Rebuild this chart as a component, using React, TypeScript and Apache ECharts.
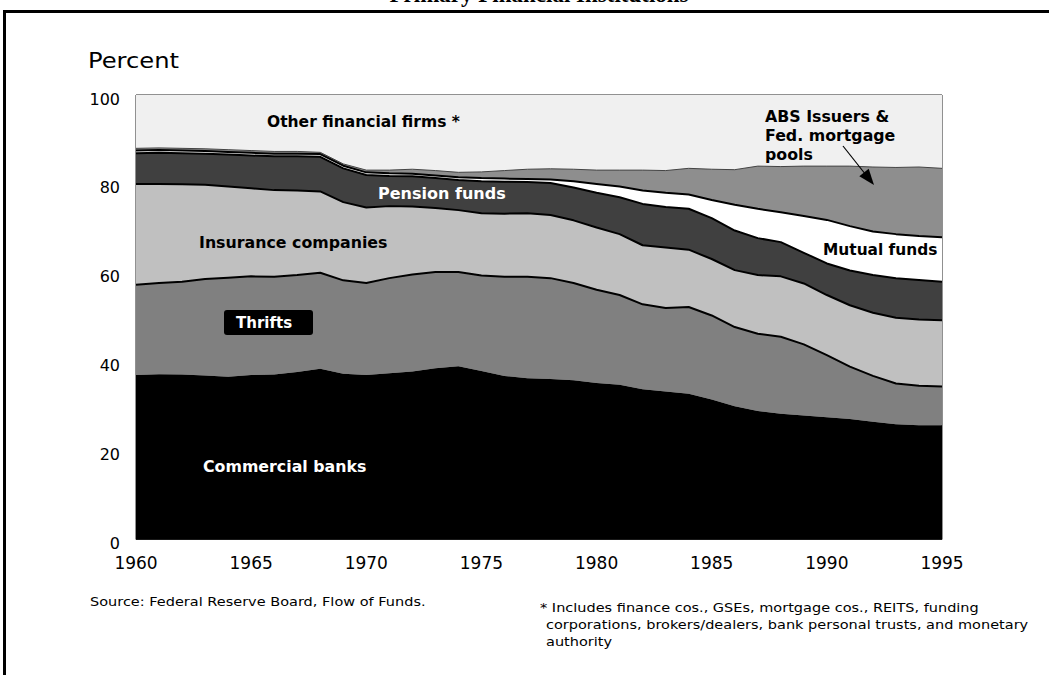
import React, { useEffect, useRef } from "react";
import * as echarts from "echarts";

const years = ["1960","1961","1962","1963","1964","1965","1966","1967","1968","1969","1970","1971","1972","1973","1974","1975","1976","1977","1978","1979","1980","1981","1982","1983","1984","1985","1986","1987","1988","1989","1990","1991","1992","1993","1994","1995"];

const commercialBanks = [37.0,37.2,37.1,36.9,36.6,37.0,37.1,37.7,38.4,37.3,37.0,37.4,37.8,38.5,39.0,37.9,36.8,36.3,36.1,35.8,35.2,34.8,33.8,33.3,32.8,31.5,30.0,28.9,28.3,27.9,27.5,27.1,26.5,25.9,25.7,25.7];
const thrifts = [20.3,20.5,20.9,21.7,22.3,22.2,22.0,21.8,21.6,21.0,20.7,21.4,21.8,21.7,21.2,21.5,22.3,22.8,22.7,21.9,21.0,20.2,19.1,18.8,19.5,18.9,17.8,17.4,17.3,16.0,14.0,11.8,10.3,9.2,8.9,8.7];
const insuranceCompanies = [22.7,22.3,21.9,21.2,20.5,19.8,19.5,19.0,18.3,17.6,17.0,16.2,15.3,14.4,13.9,14.0,14.2,14.3,14.2,14.1,14.0,13.7,13.3,13.6,12.9,12.7,12.8,13.2,13.6,13.7,13.5,13.8,14.2,14.8,14.9,14.9];
const pensionFunds = [6.9,7.0,7.0,7.0,7.2,7.4,7.6,7.7,7.8,7.6,7.3,6.8,6.8,6.7,6.8,7.2,7.2,7.0,7.2,7.4,7.8,8.3,9.3,9.1,9.2,9.2,8.9,8.3,7.7,6.9,7.1,7.8,8.5,8.9,8.9,8.7];
const mutualFunds = [0.6,0.6,0.6,0.6,0.6,0.6,0.6,0.6,0.6,0.6,0.6,0.6,0.6,0.6,0.6,0.7,0.7,0.7,0.8,1.4,2.0,2.4,3.0,3.2,3.2,4.1,5.8,6.6,6.7,8.3,9.8,10.0,9.8,9.9,9.9,10.0];
const absIssuers = [0.5,0.5,0.5,0.5,0.5,0.5,0.5,0.5,0.4,0.4,0.5,0.7,1.0,1.1,1.1,1.4,1.8,2.2,2.4,2.7,3.1,3.7,4.6,5.0,5.9,6.9,7.9,9.6,10.3,11.2,12.1,13.5,14.5,15.0,15.5,15.5];
const otherFinancial = [12.0,11.9,12.0,12.1,12.3,12.5,12.7,12.7,12.9,15.5,16.9,16.9,16.7,17.0,17.4,17.3,17.0,16.7,16.6,16.7,16.9,16.9,16.9,17.0,16.5,16.7,16.8,16.0,16.1,16.0,16.0,16.0,16.2,16.3,16.2,16.5];

const FONT = "DejaVu Sans";

function areaSeries(name: string, data: number[], fill: string, lineWidth: number, lineColor: string, z: number) {
  return {
    name,
    type: "line",
    stack: "total",
    data,
    z,
    showSymbol: false,
    symbol: "none",
    smooth: false,
    lineStyle: { width: lineWidth, color: lineColor, opacity: lineWidth > 0 ? 1 : 0 },
    areaStyle: { color: fill, opacity: 1 },
    emphasis: { disabled: true },
  };
}

function label(text: string, x: number, y: number, color: string, size = 15, extra: any = {}) {
  return {
    type: "text",
    x,
    y,
    z: 100,
    style: {
      text,
      fill: color,
      font: `bold ${size}px "${FONT}"`,
      textVerticalAlign: "middle",
      ...extra,
    },
  };
}

function note(text: string, x: number, y: number) {
  return {
    type: "text",
    z: 100,
    x,
    y,
    scaleX: 1.21,
    style: { text, fill: "#000", font: `12px "${FONT}"`, textVerticalAlign: "middle" },
  };
}

export default function App() {
  const ref = useRef<HTMLDivElement>(null);
  useEffect(() => {
    if (!ref.current) return;
    const chart = echarts.init(ref.current, null, { renderer: "svg" });
    const option: any = {
      animation: false,
      backgroundColor: "#ffffff",
      grid: {
        left: 136,
        top: 95,
        right: 107,
        bottom: 135.5,
        show: true,
        borderColor: "#222",
        borderWidth: 1,
        backgroundColor: "transparent",
      },
      xAxis: {
        type: "category",
        data: years,
        boundaryGap: false,
        axisLine: { show: false },
        axisTick: { show: false },
        axisLabel: {
          interval: 4,
          color: "#000",
          fontFamily: FONT,
          fontSize: 17,
          margin: 15,
        },
        splitLine: { show: false },
      },
      yAxis: {
        type: "value",
        min: 0,
        max: 100,
        interval: 20,
        axisLine: { show: false },
        axisTick: { show: false },
        splitLine: { show: false },
        axisLabel: {
          color: "#000",
          fontFamily: FONT,
          fontSize: 16,
          margin: 16,
          verticalAlign: "top",
          lineHeight: 8,
        },
      },
      series: [
        areaSeries("Commercial banks", commercialBanks, "#000000", 0, "#000", 10),
        areaSeries("Thrifts", thrifts, "#808080", 2, "#000", 9),
        areaSeries("Insurance companies", insuranceCompanies, "#c0c0c0", 2, "#000", 8),
        areaSeries("Pension funds", pensionFunds, "#404040", 2, "#000", 7),
        areaSeries("Mutual funds", mutualFunds, "#ffffff", 2, "#000", 6),
        areaSeries("ABS Issuers & Fed. mortgage pools", absIssuers, "#8e8e8e", 1, "#444", 5),
        areaSeries("Other financial firms *", otherFinancial, "#f0f0f0", 0, "#f0f0f0", 4),
      ],
      graphic: [
        {
          type: "rect",
          z: 100,
          shape: { x: 4.5, y: 11.5, width: 1100, height: 700 },
          style: { fill: "none", stroke: "#000", lineWidth: 3 },
        },
        {
          type: "text",
          z: 100,
          x: 539,
          y: 6,
          style: {
            text: "Primary Financial Institutions",
            fill: "#000",
            font: 'bold 23px "Liberation Serif"',
            textAlign: "center",
            textVerticalAlign: "bottom",
          },
        },
        {
          type: "text",
          z: 100,
          x: 88,
          y: 60,
          scaleX: 1.1,
          style: { text: "Percent", fill: "#000", font: `22px "${FONT}"`, textVerticalAlign: "middle" },
        },
        label("Other financial firms *", 267, 122, "#000", 15.5),
        label("Pension funds", 378, 193.5, "#fff", 16),
        label("Insurance companies", 199, 242, "#000", 15.8),
        {
          type: "rect",
          z: 99,
          shape: { x: 224, y: 310, width: 89, height: 25, r: 3 },
          style: { fill: "#000" },
        },
        label("Thrifts", 236, 322.5, "#fff", 15),
        label("Commercial banks", 203, 466, "#fff", 15.8),
        label("ABS Issuers &\nFed. mortgage\npools", 765, 107, "#000", 15.8, { textVerticalAlign: "top", lineHeight: 19 }),
        label("Mutual funds", 823, 250, "#000", 15.4),
        {
          type: "line",
          z: 100,
          shape: { x1: 843, y1: 146, x2: 866, y2: 175 },
          style: { stroke: "#000", lineWidth: 1.2 },
        },
        {
          type: "polygon",
          z: 100,
          shape: { points: [[874, 185], [859.3, 176.2], [868.7, 168.7]] },
          style: { fill: "#000" },
        },
        note("Source: Federal Reserve Board, Flow of Funds.", 90, 602),
        note("* Includes finance cos., GSEs, mortgage cos., REITS, funding", 540, 608),
        note("corporations, brokers/dealers, bank personal trusts, and monetary", 546, 625),
        note("authority", 546, 642),
      ],
    };
    chart.setOption(option);
    return () => chart.dispose();
  }, []);
  return (
    <div
      ref={ref}
      style={{ position: "absolute", left: 0, top: 0, width: 1049, height: 675, overflow: "hidden" }}
    />
  );
}
